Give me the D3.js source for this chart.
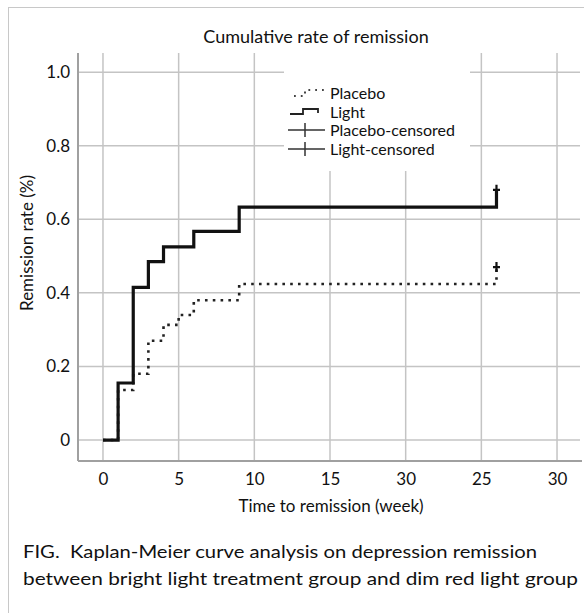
<!DOCTYPE html>
<html>
<head>
<meta charset="utf-8">
<script src="https://cdn.jsdelivr.net/npm/d3@7"></script>
<style>
  body { margin: 0; background: #fff; }
  svg { display: block; font-family: Lato, "Open Sans", sans-serif; }
</style>
</head>
<body>
<svg id="chart"></svg>
<script>
// Kaplan-Meier step data
const lightTimes = [0, 1, 2, 3, 4, 6, 9, 26];
const lightRates = [0, 0.155, 0.415, 0.485, 0.525, 0.567, 0.633, 0.68];
const placeboTimes = [0, 1, 2, 3, 4, 5, 6, 9, 26];
const placeboRates = [0, 0.136, 0.18, 0.27, 0.313, 0.34, 0.38, 0.424, 0.47];
const censorPoints = [{t: 26, v: 0.68}, {t: 26, v: 0.47}];

const xTicks = [0, 5, 10, 15, 20, 25, 30];
const xTickLabels = ['0', '5', '10', '15', '30', '25', '30'];  // "30" at 20 is as printed
const yTicks = [0, 0.2, 0.4, 0.6, 0.8, 1.0];
const yTickLabels = ['0', '0.2', '0.4', '0.6', '0.8', '1.0'];
const legendLabels = ['Placebo', 'Light', 'Placebo-censored', 'Light-censored'];

const W = 584, H = 613;
const margin = {top: 53, right: 2, bottom: 152, left: 78};
const width = W - margin.left - margin.right;
const height = H - margin.top - margin.bottom;

const svg = d3.select('#chart').attr('width', W).attr('height', H);

// outer frame
svg.append('rect')
    .attr('x', 8.5).attr('y', 7.5)
    .attr('width', 620).attr('height', 640)
    .attr('fill', 'none').attr('stroke', '#c8c8c8').attr('stroke-width', 1);

const chart = svg.append('g')
    .attr('transform', `translate(${margin.left},${margin.top})`);

const xScale = d3.scaleLinear().domain([-1.65, 31.65]).range([0, width]);
const yScale = d3.scaleLinear().domain([-0.057, 1.052]).range([height, 0]);

// grid lines
chart.selectAll('.vgrid')
    .data(xTicks)
  .join('line')
    .attr('class', 'vgrid')
    .attr('x1', d => xScale(d)).attr('x2', d => xScale(d))
    .attr('y1', 0).attr('y2', height)
    .attr('stroke', '#c4c4c4').attr('stroke-width', 1.5);

chart.selectAll('.hgrid')
    .data(yTicks)
  .join('line')
    .attr('class', 'hgrid')
    .attr('x1', 0).attr('x2', width - 2)
    .attr('y1', d => yScale(d)).attr('y2', d => yScale(d))
    .attr('stroke', '#c4c4c4').attr('stroke-width', 1.5);

// axes (labels only, lines drawn below)
const xAxis = d3.axisBottom(xScale)
    .tickValues(xTicks)
    .tickSize(0).tickPadding(12);
const yAxis = d3.axisLeft(yScale)
    .tickValues(yTicks)
    .tickSize(0).tickPadding(8);

const xAxisG = chart.append('g')
    .attr('transform', `translate(0,${height})`)
    .call(xAxis);
const yAxisG = chart.append('g').call(yAxis);

xAxisG.selectAll('.tick text').text(d => xTickLabels[xTicks.indexOf(d)]);
yAxisG.selectAll('.tick text').text(d => yTickLabels[yTicks.indexOf(d)]);

[xAxisG, yAxisG].forEach(g => {
  g.select('.domain').remove();
  g.selectAll('text')
      .attr('fill', '#111')
      .style('font-size', '17px')
      .style('font-family', 'Lato, "Open Sans", sans-serif');
});

chart.append('line')
    .attr('x1', 0).attr('x2', 0).attr('y1', 0).attr('y2', height)
    .attr('stroke', '#a0a0a0').attr('stroke-width', 2);
chart.append('line')
    .attr('x1', 0).attr('x2', width).attr('y1', height).attr('y2', height)
    .attr('stroke', '#a0a0a0').attr('stroke-width', 2);

// legend box masks the grid
const lg = svg.append('g').attr('transform', 'translate(284,53)');
lg.append('rect')
    .attr('x', 0).attr('y', 0).attr('width', 186).attr('height', 118)
    .attr('fill', '#fff');

// KM step lines
const stepLine = d3.line()
    .x(d => xScale(d[0]))
    .y(d => yScale(d[1]))
    .curve(d3.curveStepAfter);

const placeboData = placeboTimes.map((t, i) => [t, placeboRates[i]]);
const lightData = lightTimes.map((t, i) => [t, lightRates[i]]);

chart.append('path')
    .datum(placeboData)
    .attr('d', stepLine)
    .attr('fill', 'none')
    .attr('stroke', '#222')
    .attr('stroke-width', 2.6)
    .attr('stroke-dasharray', '2.6 5.2');

chart.append('path')
    .datum(lightData)
    .attr('d', stepLine)
    .attr('fill', 'none')
    .attr('stroke', '#111')
    .attr('stroke-width', 3.2)
    .attr('stroke-linejoin', 'miter');

// censor marks
chart.selectAll('.censor')
    .data(censorPoints)
  .join('path')
    .attr('class', 'censor')
    .attr('d', d => {
      const cx = xScale(d.t), cy = yScale(d.v);
      return `M${cx - 3.5},${cy}H${cx + 3.5}M${cx},${cy - 5}V${cy + 5}`;
    })
    .attr('stroke', '#111').attr('stroke-width', 2.2).attr('fill', 'none');

// legend
const rowY = [40, 59, 77, 96];
lg.append('path')
    .attr('d', `M10,${rowY[0] + 3}H21V${rowY[0] - 3}H40`)
    .attr('fill', 'none').attr('stroke', '#444')
    .attr('stroke-width', 2).attr('stroke-dasharray', '1.8 5');
lg.append('path')
    .attr('d', `M6,${rowY[1] + 2}H19V${rowY[1] - 3}H34V${rowY[1] + 1}`)
    .attr('fill', 'none').attr('stroke', '#222').attr('stroke-width', 1.8);
[2, 3].forEach(i => {
  lg.append('path')
      .attr('d', `M4,${rowY[i]}H41M21,${rowY[i] - 7}V${rowY[i] + 7}`)
      .attr('fill', 'none').attr('stroke', '#333').attr('stroke-width', 1.5);
});
lg.selectAll('.leg-text')
    .data(legendLabels)
  .join('text')
    .attr('class', 'leg-text')
    .attr('x', 46)
    .attr('y', (d, i) => rowY[i] + 6)
    .attr('fill', '#111')
    .style('font-size', '16px')
    .text(d => d);

// titles
svg.append('text')
    .attr('x', 316).attr('y', 43)
    .attr('text-anchor', 'middle')
    .attr('fill', '#111')
    .style('font-size', '18px')
    .text('Cumulative rate of remission');

svg.append('text')
    .attr('x', 331).attr('y', 512)
    .attr('text-anchor', 'middle')
    .attr('fill', '#111')
    .style('font-size', '17px')
    .text('Time to remission (week)');

svg.append('text')
    .attr('transform', 'translate(33,243) rotate(-90)')
    .attr('text-anchor', 'middle')
    .attr('fill', '#111')
    .style('font-size', '17px')
    .text('Remission rate (%)');

// caption
svg.append('text')
    .attr('x', 23).attr('y', 558)
    .attr('fill', '#111')
    .style('font-size', '18px')
    .style('white-space', 'pre')
    .attr('textLength', 514).attr('lengthAdjust', 'spacingAndGlyphs')
    .text('FIG.  Kaplan-Meier curve analysis on depression remission');
svg.append('text')
    .attr('x', 23).attr('y', 585)
    .attr('fill', '#111')
    .style('font-size', '18px')
    .attr('textLength', 555).attr('lengthAdjust', 'spacingAndGlyphs')
    .text('between bright light treatment group and dim red light group');
</script>
</body>
</html>
